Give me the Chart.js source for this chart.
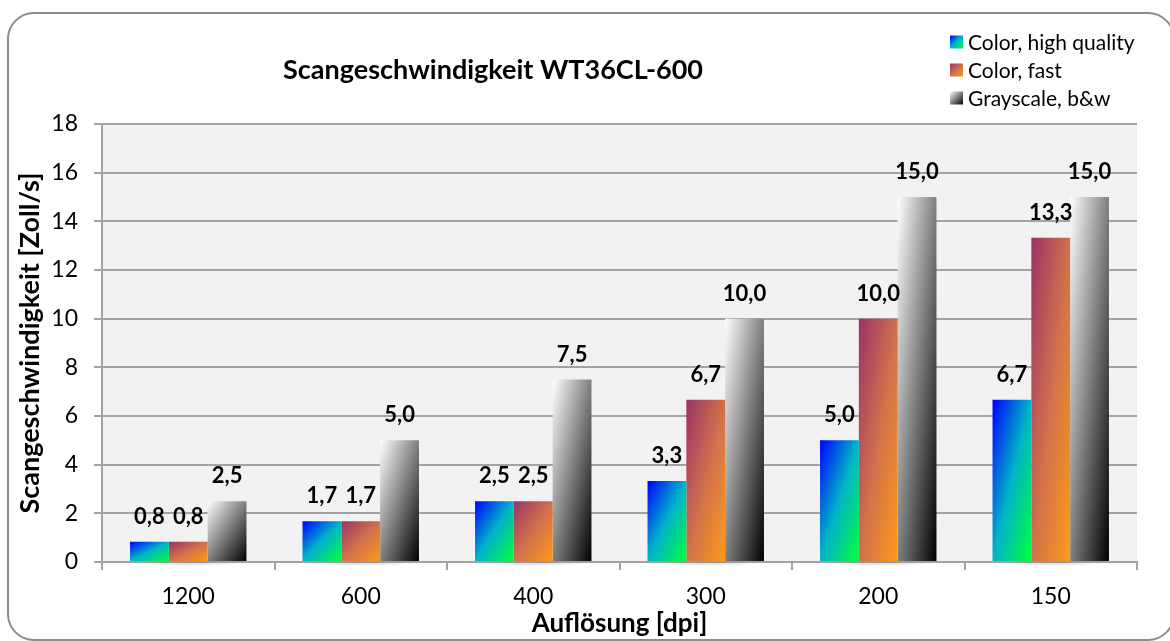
<!DOCTYPE html>
<html><head><meta charset="utf-8">
<script src="https://cdn.jsdelivr.net/npm/chart.js@4.4.0/dist/chart.umd.min.js"></script>
<style>
html,body{margin:0;padding:0;background:#fff;overflow:hidden}
#wrap{width:1170px;height:641px;position:relative}
</style>
</head><body><div id="wrap"><canvas id="c" width="1170" height="641"></canvas></div>
<script>
// ---- data ----
const categories = ['1200', '600', '400', '300', '200', '150'];
const seriesNames = ['Color, high quality', 'Color, fast', 'Grayscale, b&w'];
const colorHighQuality = [0.83, 1.67, 2.5, 3.33, 5.0, 6.67];
const colorFast = [0.83, 1.67, 2.5, 6.67, 10.0, 13.33];
const grayscaleBW = [2.5, 5.0, 7.5, 10.0, 15.0, 15.0];
const yMin = 0, yMax = 18, yStep = 2;
const chartTitle = 'Scangeschwindigkeit WT36CL-600';
const xTitle = 'Auflösung [dpi]';
const yTitle = 'Scangeschwindigkeit [Zoll/s]';

// ---- styles ----
const FONT = 'Lato, "Open Sans", sans-serif';
const gradStops = [
  [[0, '#0000ff'], [0.5, '#00b4c8'], [1, '#00ff3c']],
  [[0, '#993366'], [0.5, '#d0704c'], [1, '#ff9a18']],
  [[0, '#ffffff'], [1, '#000000']]
];
const GRID = '#a3a3a3';

function makeGrad(ctx, x, y, w, h, stops) {
  // diagonal gradient scaled to shape: top-left -> bottom-right
  const k = 2 * w * h / (w * w + h * h);
  const g = ctx.createLinearGradient(x, y, x + h * k, y + w * k);
  stops.forEach(s => g.addColorStop(s[0], s[1]));
  return g;
}

const fmt = v => v.toFixed(1).replace('.', ',');

const framePlugin = {
  id: 'frame',
  beforeDraw(chart) {
    const ctx = chart.ctx;
    ctx.save();
    ctx.fillStyle = '#ffffff';
    ctx.fillRect(0, 0, chart.width, chart.height);
    ctx.beginPath();
    ctx.roundRect(8, 13, 1166, 627, 26);
    ctx.lineWidth = 2;
    ctx.strokeStyle = '#8c8c8c';
    ctx.stroke();
    const a = chart.chartArea;
    ctx.fillStyle = '#f2f2f2';
    ctx.fillRect(a.left, a.top, a.right - a.left, a.bottom - a.top);
    ctx.restore();
  },
  beforeDatasetsDraw(chart) {
    const ctx = chart.ctx;
    chart.data.datasets.forEach((ds, i) => {
      const meta = chart.getDatasetMeta(i);
      meta.data.forEach(el => {
        const w = el.width, x = el.x - w / 2, y = el.y, h = el.base - el.y;
        const o = Object.create(el.options);
        o.backgroundColor = makeGrad(ctx, x, y, w, h, gradStops[i]);
        el.options = o;
      });
    });
    // soft shadows under bar groups
    ctx.save();
    const meta0 = chart.getDatasetMeta(0), meta2 = chart.getDatasetMeta(2);
    meta0.data.forEach((el, j) => {
      const l = el.x - el.width / 2, r = meta2.data[j].x + meta2.data[j].width / 2;
      const cx = (l + r) / 2, cy = el.base + 1;
      const g = ctx.createRadialGradient(0, 0, 0, 0, 0, (r - l) / 2);
      g.addColorStop(0, 'rgba(120,120,120,0.35)');
      g.addColorStop(1, 'rgba(120,120,120,0)');
      ctx.save();
      ctx.translate(cx, cy);
      ctx.scale(1, 0.08);
      ctx.fillStyle = g;
      ctx.beginPath();
      ctx.arc(0, 0, (r - l) / 2, 0, Math.PI * 2);
      ctx.fill();
      ctx.restore();
    });
    ctx.restore();
  },
  afterDatasetsDraw(chart) {
    const ctx = chart.ctx;
    ctx.save();
    ctx.font = 'bold 22px ' + FONT;
    ctx.fillStyle = '#000';
    ctx.textAlign = 'center';
    ctx.textBaseline = 'middle';
    chart.data.datasets.forEach((ds, i) => {
      chart.getDatasetMeta(i).data.forEach((el, j) => {
        ctx.fillText(fmt(ds.data[j]), el.x, el.y - 25);
      });
    });
    ctx.restore();
  },
  afterDraw(chart) {
    const ctx = chart.ctx;
    ctx.save();
    // title
    ctx.font = 'bold 27px ' + FONT;
    ctx.fillStyle = '#000';
    ctx.textAlign = 'center';
    ctx.textBaseline = 'middle';
    ctx.fillText(chartTitle, 493, 70);
    // legend
    ctx.font = '21px ' + FONT;
    ctx.textAlign = 'left';
    const ys = [42, 70, 98];
    seriesNames.forEach((n, i) => {
      const bx = 950, by = ys[i] - 6.5;
      ctx.fillStyle = makeGrad(ctx, bx, by, 13, 13, gradStops[i]);
      ctx.fillRect(bx, by, 13, 13);
      ctx.fillStyle = '#000';
      ctx.fillText(n, 968, ys[i] + 1);
    });
    ctx.restore();
  }
};

new Chart(document.getElementById('c'), {
  type: 'bar',
  data: {
    labels: categories,
    datasets: [
      { label: seriesNames[0], data: colorHighQuality, backgroundColor: '#00aaff' },
      { label: seriesNames[1], data: colorFast, backgroundColor: '#cc6644' },
      { label: seriesNames[2], data: grayscaleBW, backgroundColor: '#888888' }
    ]
  },
  options: {
    responsive: false,
    devicePixelRatio: 1,
    animation: false,
    events: [],
    datasets: { bar: { categoryPercentage: 0.675, barPercentage: 1, borderWidth: 0 } },
    layout: { padding: { left: 14, top: 124, right: 33, bottom: 2 } },
    plugins: { legend: { display: false }, title: { display: false }, tooltip: { enabled: false } },
    scales: {
      x: {
        grid: { display: true, drawOnChartArea: false, drawTicks: true, tickLength: 8, color: GRID, lineWidth: 2 },
        border: { display: true, color: GRID, width: 2 },
        ticks: { color: '#000', font: { family: FONT, size: 23 }, padding: 13 },
        title: { display: true, text: xTitle, color: '#000', font: { family: FONT, size: 26, weight: 'bold' }, padding: { top: 0, bottom: 0 } },
        afterFit(s) { s.height = 77; }
      },
      y: {
        min: yMin, max: yMax,
        grid: { color: GRID, lineWidth: 2, tickLength: 8 },
        border: { display: true, color: GRID, width: 2 },
        ticks: { stepSize: yStep, color: '#000', font: { family: FONT, size: 23 }, padding: 16 },
        title: { display: true, text: yTitle, color: '#000', font: { family: FONT, size: 27, weight: 'bold' }, padding: { top: 0, bottom: 0 } },
        afterFit(s) { s.width = 88; }
      }
    }
  },
  plugins: [framePlugin]
});
</script>
</body></html>
